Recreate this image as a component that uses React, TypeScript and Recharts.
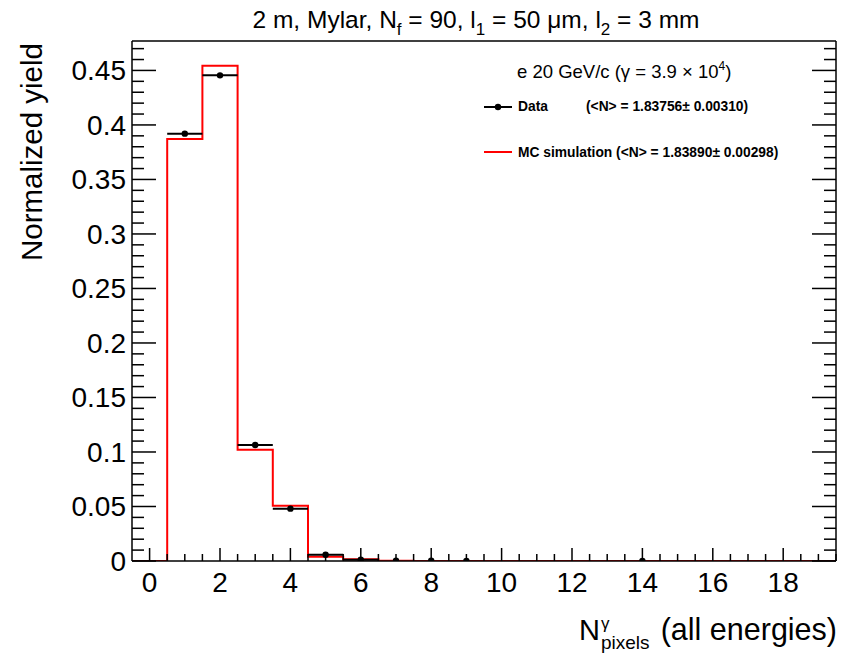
import React from "react";
import { ComposedChart, Line, Scatter, XAxis, YAxis, ErrorBar } from "recharts";

// bin centres of the histogram (integer pixel counts)
const binCenters = [0, 1, 2, 3, 4, 5, 6, 7, 8, 9, 10, 11, 12, 13, 14, 15, 16, 17, 18, 19];
// MC simulation, normalized yield per bin
const mcYield = [
  0, 0.387, 0.4544, 0.1021, 0.0507, 0.004, 0.0015, 0.0003, 0.0001, 0, 0, 0, 0, 0, 0, 0, 0, 0, 0, 0,
];
// measured data points
const dataBins = [1, 2, 3, 4, 5, 6, 7, 8, 9, 14];
const dataYield = [0.392, 0.4455, 0.1064, 0.048, 0.0058, 0.0012, 0.0003, 0.0002, 0.0001, 0.0001];
const dataXErr = [0.5, 0.5, 0.5, 0.5, 0.5, 0.5, 0, 0, 0, 0];

const xMajorTicks = [0, 2, 4, 6, 8, 10, 12, 14, 16, 18];
const yMajorTicks = [0, 0.05, 0.1, 0.15, 0.2, 0.25, 0.3, 0.35, 0.4, 0.45];
const xMinorTicks = Array.from({ length: 40 }, (_, i) => i * 0.5);
const yMinorTicks = Array.from({ length: 48 }, (_, i) => i / 100);

const X_DOMAIN = [-0.5, 19.5];
const Y_DOMAIN = [0, 0.477];

const mcSteps = [
  ...binCenters.map((c, i) => ({ x: c - 0.5, y: mcYield[i] })),
  { x: 19.5, y: mcYield[mcYield.length - 1] },
];
const dataPoints = dataBins.map((x, i) => ({ x, y: dataYield[i], ex: dataXErr[i] }));

const FONT = "'Liberation Sans', Arial, Helvetica, sans-serif";
const W = 843;
const H = 657;

const tickFmt = (v: number) => String(+v.toFixed(2));

const isMajor = (v: number, step: number) => Math.abs(v / step - Math.round(v / step)) < 1e-6;

// inward tick marks drawn from the frame edge; long on majors, short on minors
function tickMark(side: "top" | "bottom" | "left" | "right", step: number, major: number, minor: number) {
  return (props: any) => {
    const { x, y, payload } = props;
    const len = isMajor(payload.value, step) ? major : minor;
    let x2 = x;
    let y2 = y;
    if (side === "bottom") y2 = y - len;
    if (side === "top") y2 = y + len;
    if (side === "left") x2 = x + len;
    if (side === "right") x2 = x - len;
    return <line x1={x} y1={y} x2={x2} y2={y2} stroke="#000" strokeWidth={1.5} />;
  };
}

// bottom axis: inward tick + number label on the majors
const bottomTick = (props: any) => {
  const { x, y, payload } = props;
  const major = isMajor(payload.value, 2);
  return (
    <g>
      <line x1={x} y1={y} x2={x} y2={y - (major ? 13 : 7)} stroke="#000" strokeWidth={1.5} />
      {major && (
        <text x={x} y={y + 31} textAnchor="middle" fontSize={28} fontFamily={FONT} fill="#000">
          {payload.value}
        </text>
      )}
    </g>
  );
};

const frameLine = { stroke: "#000", strokeWidth: 1.5 };

export default function App() {
  return (
    <div style={{ position: "absolute", left: 0, top: 0, width: W, height: H, background: "#fff", fontFamily: FONT }}>
      <ComposedChart width={W} height={H} margin={{ top: 41, right: 7, bottom: 66, left: 72 }}>
        {/* labelled axes */}
        <XAxis
          xAxisId="main"
          dataKey="x"
          type="number"
          domain={X_DOMAIN}
          allowDataOverflow
          ticks={xMinorTicks}
          interval={0}
          height={30}
          tickLine={false}
          tickSize={0}
          tickMargin={0}
          axisLine={frameLine}
          tick={bottomTick}
        />
        <YAxis
          yAxisId="main"
          type="number"
          domain={Y_DOMAIN}
          allowDataOverflow
          ticks={yMajorTicks}
          interval={0}
          width={60}
          tickLine={false}
          tickSize={0}
          tickMargin={6}
          tickFormatter={tickFmt}
          axisLine={frameLine}
          tick={{ fill: "#000", fontSize: 28, fontFamily: FONT }}
        />
        {/* inward tick marks on the other three sides, plus top/right frame */}
        <XAxis xAxisId="tTicks" type="number" domain={X_DOMAIN} allowDataOverflow ticks={xMinorTicks} interval={0}
          orientation="top" mirror height={1} tickSize={0} tickMargin={0} tickLine={false} axisLine={frameLine}
          tick={tickMark("top", 2, 13, 7)} />
        <YAxis yAxisId="lTicks" type="number" domain={Y_DOMAIN} allowDataOverflow ticks={yMinorTicks} interval={0}
          orientation="left" mirror width={1} tickSize={0} tickMargin={0} tickLine={false} axisLine={false}
          tick={tickMark("left", 0.05, 24, 12)} />
        <YAxis yAxisId="rTicks" type="number" domain={Y_DOMAIN} allowDataOverflow ticks={yMinorTicks} interval={0}
          orientation="right" mirror width={1} tickSize={0} tickMargin={0} tickLine={false} axisLine={frameLine}
          tick={tickMark("right", 0.05, 24, 12)} />

        <Line
          xAxisId="main"
          yAxisId="main"
          data={mcSteps}
          dataKey="y"
          type="stepAfter"
          stroke="#ff0000"
          strokeWidth={2}
          dot={false}
          activeDot={false}
          isAnimationActive={false}
        />
        <Scatter
          xAxisId="main"
          yAxisId="main"
          data={dataPoints}
          dataKey="y"
          isAnimationActive={false}
          shape={(p: any) => <circle cx={p.cx} cy={p.cy} r={3.2} fill="#000" />}
        >
          <ErrorBar dataKey="ex" direction="x" width={0} stroke="#000" strokeWidth={2} isAnimationActive={false} />
        </Scatter>
      </ComposedChart>

      <svg width={W} height={H} style={{ position: "absolute", left: 0, top: 0, pointerEvents: "none" }} fontFamily={FONT}>
        {/* title */}
        <text x={476} y={28} textAnchor="middle" fontSize={24.5} fill="#000">
          2 m, Mylar, N<tspan fontSize={17} dy={7}>f</tspan>
          <tspan dy={-7}> = 90, l</tspan>
          <tspan fontSize={17} dy={7}>1</tspan>
          <tspan dy={-7}> = 50 μm, l</tspan>
          <tspan fontSize={17} dy={7}>2</tspan>
          <tspan dy={-7}> = 3 mm</tspan>
        </text>

        {/* y axis title */}
        <text transform="translate(42,43) rotate(-90)" textAnchor="end" fontSize={29.5} fill="#000">
          Normalized yield
        </text>

        {/* x axis title */}
        <text x={579} y={640} fontSize={29} fill="#000">N</text>
        <text x={601} y={629} fontSize={17} fill="#000">γ</text>
        <text x={601} y={649} fontSize={19} fill="#000">pixels</text>
        <text x={837} y={640} textAnchor="end" fontSize={30.5} fill="#000">(all energies)</text>

        {/* legend */}
        <text x={517} y={78} fontSize={18.5} fill="#000">
          e 20 GeV/c (γ = 3.9 × 10<tspan fontSize={12} dy={-8}>4</tspan>
          <tspan dy={8}>)</tspan>
        </text>
        <line x1={484} x2={512} y1={107} y2={107} stroke="#000" strokeWidth={2} />
        <circle cx={498} cy={107} r={3.2} fill="#000" />
        <text x={518} y={111} fontSize={13.8} fontWeight="bold" fill="#000">Data</text>
        <text x={586} y={111} fontSize={13.8} fontWeight="bold" fill="#000">(&lt;N&gt; = 1.83756± 0.00310)</text>
        <line x1={484} x2={512} y1={152} y2={152} stroke="#ff0000" strokeWidth={2} />
        <text x={518} y={157} fontSize={13.8} fontWeight="bold" fill="#000">MC simulation (&lt;N&gt; = 1.83890± 0.00298)</text>
      </svg>
    </div>
  );
}
